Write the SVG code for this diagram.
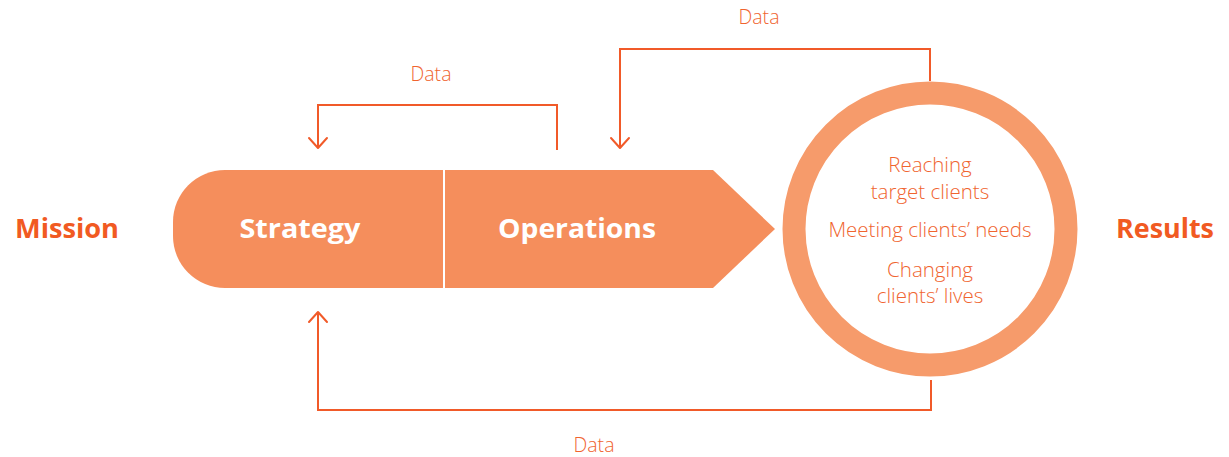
<svg xmlns="http://www.w3.org/2000/svg" width="1229" height="457" viewBox="0 0 1229 457">
  <defs>
    <style>
      .bg { fill: #ffffff; }
      .shape { fill: #F58E5C; }
      .ring { fill: none; stroke: #F69B6B; stroke-width: 23; }
      .conn { fill: none; stroke: #F15A29; stroke-width: 2; stroke-linejoin: miter; }
      .head { fill: none; stroke: #F15A29; stroke-width: 2; stroke-linecap: round; stroke-linejoin: round; }
      .side { font-family: "Open Sans", "Liberation Sans", sans-serif; font-weight: 700; font-size: 26px; fill: #F15A22; }
      .stage { font-family: "Open Sans", "Liberation Sans", sans-serif; font-weight: 700; font-size: 26px; fill: #ffffff; text-anchor: middle; }
      .inner { font-family: "Open Sans", "Liberation Sans", sans-serif; font-weight: 300; font-size: 20.5px; fill: #F0642F; text-anchor: middle; }
      .label { font-family: "Open Sans", "Liberation Sans", sans-serif; font-weight: 300; font-size: 19.5px; fill: #F0642F; text-anchor: middle; }
    </style>
  </defs>

  <rect class="bg" x="0" y="0" width="1229" height="457"/>

  <!-- feedback loops -->
  <g id="connectors">
    <!-- operations back to strategy -->
    <path class="conn" d="M557 150 V105 H318 V148"/>
    <path class="head" d="M309 138 L318 148 L327 138"/>
    <!-- results back to operations -->
    <path class="conn" d="M930 81 V49 H620 V148"/>
    <path class="head" d="M611 138 L620 148 L629 138"/>
    <!-- results back to strategy -->
    <path class="conn" d="M931 380 V410 H318 V312"/>
    <path class="head" d="M309 322 L318 312 L327 322"/>
    <text class="label" x="431" y="81">Data</text>
    <text class="label" x="759" y="24">Data</text>
    <text class="label" x="594" y="452">Data</text>
  </g>

  <g id="mission">
    <text class="side" x="15" y="238" textLength="104" lengthAdjust="spacingAndGlyphs">Mission</text>
  </g>

  <g id="strategy">
    <path class="shape" d="M225 170 H443 V288 H225 A52 52 0 0 1 173 236 V222 A52 52 0 0 1 225 170 Z"/>
    <text class="stage" x="300" y="238" textLength="121" lengthAdjust="spacingAndGlyphs">Strategy</text>
  </g>

  <g id="operations">
    <path class="shape" d="M445 170 H713 L775 229 L713 288 H445 Z"/>
    <text class="stage" x="577" y="238" textLength="158" lengthAdjust="spacingAndGlyphs">Operations</text>
  </g>

  <g id="results-circle">
    <circle class="ring" cx="930" cy="229" r="136"/>
    <text class="inner" x="930" y="172">Reaching</text>
    <text class="inner" x="930" y="199">target clients</text>
    <text class="inner" x="930" y="237">Meeting clients’ needs</text>
    <text class="inner" x="930" y="277">Changing</text>
    <text class="inner" x="930" y="303">clients’ lives</text>
  </g>

  <g id="results">
    <text class="side" x="1116" y="238" textLength="98" lengthAdjust="spacingAndGlyphs">Results</text>
  </g>
</svg>
